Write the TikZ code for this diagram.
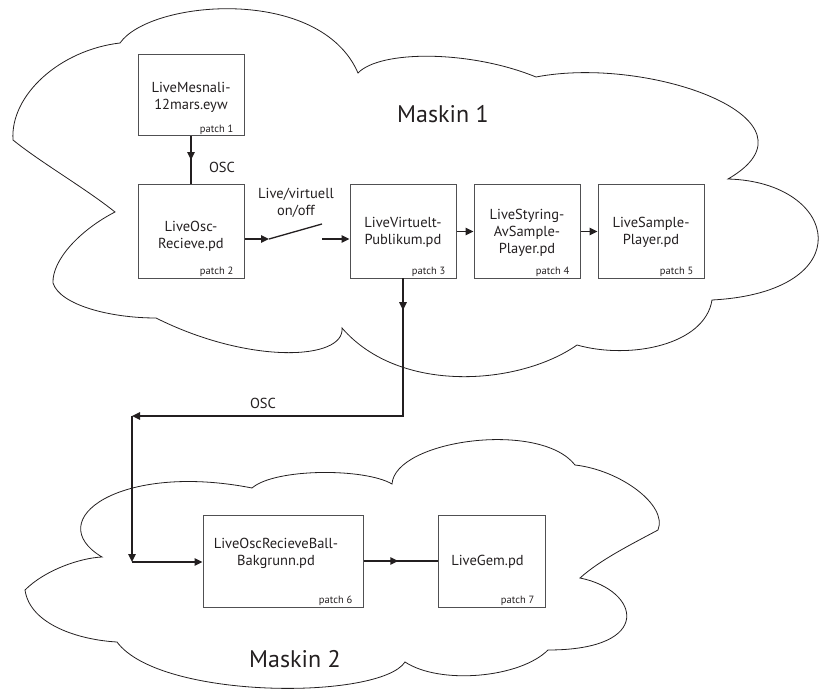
\documentclass[tikz,border=0pt]{standalone}
\usepackage{fontspec}
\setmainfont{PT Sans}
\usetikzlibrary{arrows.meta,decorations.markings}
\definecolor{ink}{HTML}{231F20}
\definecolor{frame}{HTML}{505052}

\tikzset{
  patchbox/.style={draw=frame, line width=1pt, inner sep=0pt,
    minimum width=106pt, minimum height=93pt},
  boxtext/.style={text=ink, align=center, inner sep=0pt,
    font=\fontsize{14.5}{17}\selectfont},
  patchlbl/.style={text=ink, inner sep=0pt, anchor=base east,
    font=\fontsize{10.5}{12}\selectfont},
  lbl/.style={text=ink, align=center, inner sep=0pt,
    font=\fontsize{14.5}{17}\selectfont},
  title/.style={text=ink, inner sep=0pt, font=\fontsize{24}{28}\selectfont},
  cloud/.style={draw=ink, line width=0.8pt},
  conn/.style={draw=ink, line width=1.5pt},
  tip/.style={-{Triangle[length=8pt,width=7.5pt]}},
  blade/.style={draw=ink, line width=1.3pt},
  midarrow/.style={postaction={decorate}, decoration={markings,
    mark=at position #1 with {\arrow{Triangle[length=8pt,width=7.5pt]}}}},
}

\begin{document}
\begin{tikzpicture}[x=1pt,y=-1pt]
\useasboundingbox (0,0) rectangle (820,690);

% Machine 1 outline
\draw[cloud] (13,140)
  .. controls (10,95) and (60,50) .. (120,43)
  .. controls (150,0) and (320,-15) .. (358,73)
  .. controls (380,50) and (470,50) .. (536,77)
  .. controls (650,55) and (830,120) .. (728,179)
  .. controls (840,182) and (862,292) .. (712,300)
  .. controls (705,345) and (630,360) .. (577,345)
  .. controls (520,385) and (400,395) .. (342,328)
  .. controls (345,360) and (250,365) .. (156,318)
  .. controls (110,318) and (60,305) .. (53,283)
  .. controls (52,260) and (80,230) .. (115,212)
  .. controls (85,188) and (40,162) .. (13,140) -- cycle;

% Machine 2 outline
\draw[cloud] (25,590)
  .. controls (45,570) and (80,558) .. (102,557)
  .. controls (40,520) and (120,462) .. (252,488)
  .. controls (275,468) and (365,468) .. (392,484)
  .. controls (395,440) and (540,420) .. (575,465)
  .. controls (620,470) and (668,505) .. (658,530)
  .. controls (630,545) and (600,560) .. (580,578)
  .. controls (640,590) and (655,650) .. (548,650)
  .. controls (520,678) and (440,685) .. (405,662)
  .. controls (380,700) and (160,700) .. (117,642)
  .. controls (80,640) and (30,625) .. (25,590) -- cycle;

\node[title] (m1) at (443,114) {Maskin 1};
\node[title] (m2) at (295,659) {Maskin 2};

% patches
\node[patchbox, minimum height=81pt] (p1) at (191,95.5) {};
\node[patchbox] (p2) at (191,231.5) {};
\node[patchbox] (p3) at (403,231.5) {};
\node[patchbox] (p4) at (527,231.5) {};
\node[patchbox] (p5) at (651,231.5) {};
\node[patchbox, minimum width=160pt, minimum height=92pt] (p6) at (283,561) {};
\node[patchbox, minimum width=107pt, minimum height=92pt] (p7) at (491.5,561) {};

\node[boxtext] (t1) at (191,97) {LiveMesnali-\\12mars.eyw};
\node[boxtext] (t2) at (191,236) {LiveOsc-\\Recieve.pd};
\node[boxtext] (t3) at (403,232) {LiveVirtuelt-\\Publikum.pd};
\node[boxtext] (t4) at (527,232.5) {LiveStyring-\\AvSample-\\Player.pd};
\node[boxtext] (t5) at (651,232) {LiveSample-\\Player.pd};
\node[boxtext] (t6) at (276,553) {LiveOscRecieveBall-\\Bakgrunn.pd};
\node[boxtext] (t7) at (487.5,562) {LiveGem.pd};

\node[patchlbl] (l1) at ([xshift=-11pt,yshift=4pt]p1.south east) {patch 1};
\node[patchlbl] (l2) at ([xshift=-11pt,yshift=4pt]p2.south east) {patch 2};
\node[patchlbl] (l3) at ([xshift=-11pt,yshift=4pt]p3.south east) {patch 3};
\node[patchlbl] (l4) at ([xshift=-11pt,yshift=4pt]p4.south east) {patch 4};
\node[patchlbl] (l5) at ([xshift=-11pt,yshift=4pt]p5.south east) {patch 5};
\node[patchlbl] (l6) at ([xshift=-11pt,yshift=4pt]p6.south east) {patch 6};
\node[patchlbl] (l7) at ([xshift=-11pt,yshift=4pt]p7.south east) {patch 7};

% labels on connectors
\node[lbl] (osc1) at (222,167) {OSC};
\node[lbl] (sw) at (296,203) {Live/virtuell\\on/off};
\node[lbl] (osc2) at (263,403) {OSC};

% switch
\coordinate (sw1) at (269,239);
\coordinate (sw2) at (322,224);
\coordinate (sw3) at (322,239);
\draw[conn, tip] (p2.east |- sw1) -- (sw1);
\draw[blade] (sw1) -- (sw2);
\draw[conn, tip] (sw3) -- (sw3 -| p3.west);

% connectors inside machine 1
\draw[conn, midarrow=0.49] (p1) -- (p2);
\draw[conn, tip] (p3) -- (p4);
\draw[conn, tip] (p4) -- (p5);

% OSC link from machine 1 to machine 2
\coordinate (c1) at (403,416);
\coordinate (c2) at (132,416);
\coordinate (c3) at (132,562);
\draw[conn, midarrow=0.23, line cap=rect] (p3.south) -- (c1);
\draw[conn, tip] (c1) -- (c2);
\draw[conn, tip] (c2) -- (c3);
\draw[conn, tip] (c3) -- (c3 -| p6.west);

% connector inside machine 2
\draw[conn, midarrow=0.47] (p6) -- (p7);
\end{tikzpicture}
\end{document}
